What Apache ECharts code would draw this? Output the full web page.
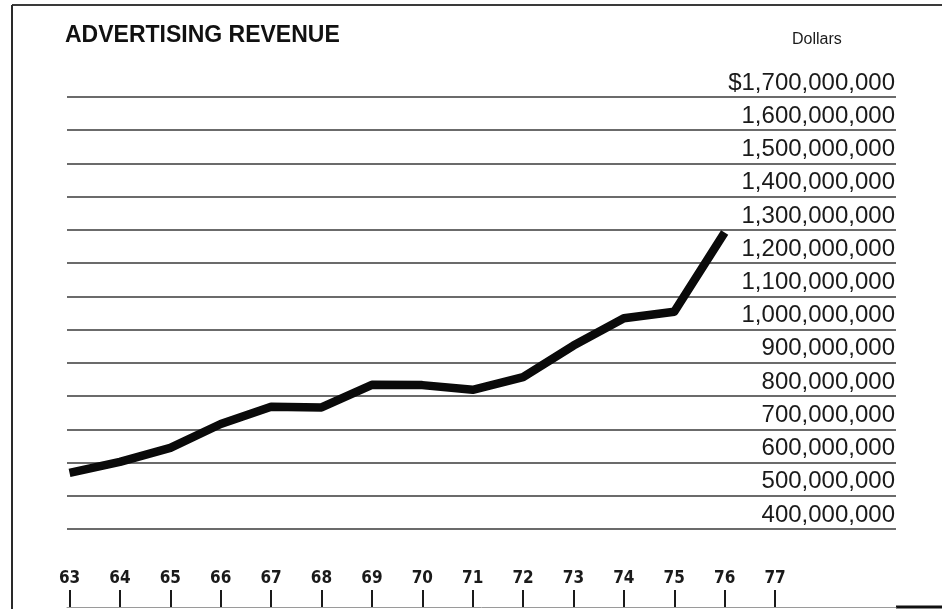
<!DOCTYPE html>
<html>
<head>
<meta charset="utf-8">
<title>Advertising Revenue</title>
<script src="https://cdn.jsdelivr.net/npm/echarts@6/dist/echarts.min.js"></script>
<style>
  html, body { margin: 0; padding: 0; background: #ffffff; }
  #chart { width: 942px; height: 609px; }
</style>
</head>
<body>
<div id="chart"></div>
<script>
// Years (two-digit) along the bottom scale
const years = [63, 64, 65, 66, 67, 68, 69, 70, 71, 72, 73, 74, 75, 76, 77];
// Annual advertising revenue, in dollars, 1963–1976
const revenueYears = [63, 64, 65, 66, 67, 68, 69, 70, 71, 72, 73, 74, 75, 76];
const revenue = [
  569e6, 602e6, 644e6, 716e6, 768e6, 766e6, 834e6,
  833e6, 819e6, 857e6, 952e6, 1034e6, 1054e6, 1292e6
];
// Dollar scale
const yMin = 400e6, yMax = 1700e6, yStep = 100e6;

const INK = '#1a1a1a';
const chart = echarts.init(document.getElementById('chart'), null, { renderer: 'canvas' });

function dollars(v) {
  const s = Math.round(v).toLocaleString('en-US');
  return v === yMax ? '$' + s : s;
}

chart.setOption({
  backgroundColor: '#ffffff',
  animation: false,
  title: [
    {
      text: 'ADVERTISING REVENUE',
      left: 60, top: 19, padding: 5,
      textStyle: { fontFamily: 'Liberation Sans, Arial, sans-serif', fontWeight: 'bold', fontSize: 23, color: '#111111' }
    },
    {
      text: 'Dollars',
      left: 787, top: 27, padding: 5,
      textStyle: { fontFamily: 'Liberation Sans, Arial, sans-serif', fontWeight: 'normal', fontSize: 16, color: INK }
    }
  ],
  grid: { left: 67, right: 46, top: 97, bottom: 80 },
  xAxis: {
    type: 'value',
    min: 62.95,
    max: 79.4,
    position: 'bottom',
    offset: 78,
    axisLine: { show: true, lineStyle: { color: '#9a9a9a', width: 1 } },
    axisTick: {
      show: true, inside: true, length: 17,
      customValues: years,
      lineStyle: { color: INK, width: 2 }
    },
    axisLabel: {
      show: true, inside: true, margin: 20,
      customValues: years,
      formatter: v => String(v),
      verticalAlign: 'bottom',
      fontFamily: 'DejaVu Sans Condensed, sans-serif',
      fontWeight: 'bold', fontSize: 17, color: INK
    },
    splitLine: { show: false }
  },
  yAxis: {
    type: 'value',
    position: 'right',
    min: yMin, max: yMax, interval: yStep,
    axisLine: { show: false },
    axisTick: { show: false },
    axisLabel: {
      inside: true, margin: 1,
      align: 'right',
      verticalAlign: 'bottom',
      padding: [0, 0, 2, 0],
      formatter: dollars,
      showMinLabel: true, showMaxLabel: true,
      fontFamily: 'Liberation Sans, Arial, sans-serif',
      fontSize: 24, color: INK
    },
    splitLine: { show: true, lineStyle: { color: '#3a3a3a', width: 1.5 } }
  },
  series: [{
    type: 'line',
    data: revenueYears.map((y, i) => [y, revenue[i]]),
    symbol: 'none',
    lineStyle: { color: '#0a0a0a', width: 8.5, cap: 'butt', join: 'round' },
    z: 5
  }],
  graphic: [
    // frame: top and left rules, heavier stub at lower right
    { type: 'line', shape: { x1: 12, y1: 5, x2: 942, y2: 5 }, style: { stroke: '#3a3a3a', lineWidth: 2 } },
    { type: 'line', shape: { x1: 12, y1: 5, x2: 12, y2: 609 }, style: { stroke: '#2a2a2a', lineWidth: 2 } },
    { type: 'line', shape: { x1: 896, y1: 607, x2: 942, y2: 607 }, style: { stroke: '#111111', lineWidth: 3 } }
  ]
});
</script>
</body>
</html>
